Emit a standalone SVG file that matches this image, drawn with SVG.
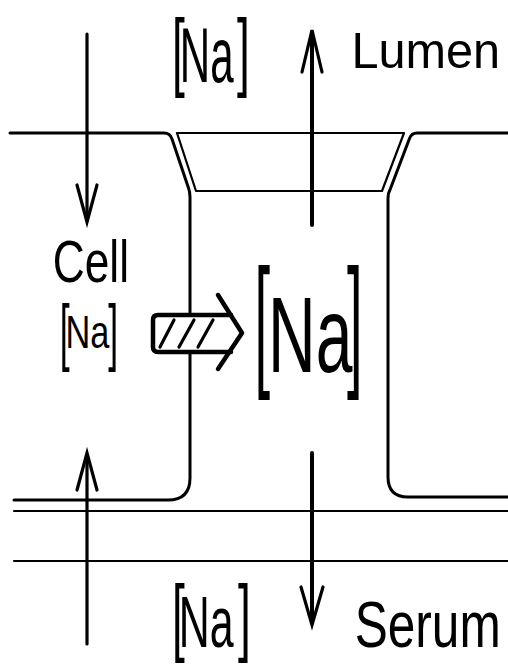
<svg xmlns="http://www.w3.org/2000/svg" width="508" height="665" viewBox="0 0 508 665">
  <style>
    .ln { fill: none; stroke: #000; stroke-linecap: round; stroke-linejoin: round; }
    .mem { stroke-width: 3; }
    .thin { stroke-width: 2.2; }
    .arr { stroke-width: 3.2; }
    .arrm { stroke-width: 4; }
    .head { fill: none; stroke: #000; stroke-width: 3.2; stroke-linecap: round; stroke-linejoin: miter; }
    text { font-family: "Liberation Sans", Arial, sans-serif; fill: #000; }
  </style>
  <rect x="0" y="0" width="508" height="665" fill="#fff"/>

  <g id="membranes">
    <path class="ln mem" d="M10,133 L164,133 Q170,133 172,139 L188.5,188 Q190,192 190,197 L190,478 Q190,500 168,500 L14,500"/>
    <path class="ln mem" d="M508,133 L417,133 Q411.5,133 409.5,138.5 L390.5,188.5 Q388,193 388,198 L388,477 Q388,497 408,497 L508,497"/>
    <polygon id="junction" class="ln thin" points="177,133 404,133 382,191 196,191"/>
    <line class="ln thin" x1="14" y1="511" x2="508" y2="511"/>
    <line class="ln thin" x1="14" y1="561" x2="508" y2="561"/>
  </g>

  <g id="connectors">
    <g id="arrow-lumen-to-cell">
      <line class="ln arr" x1="87" y1="34" x2="87" y2="220"/>
      <polyline class="head" points="77,185 87,222 97,185"/>
    </g>
    <g id="arrow-serum-to-cell">
      <line class="ln arr" x1="87" y1="455" x2="87" y2="644"/>
      <polyline class="head" points="77,490 87,453 97,490"/>
    </g>
    <g id="arrow-to-lumen">
      <line class="ln arrm" x1="312" y1="33" x2="312" y2="225"/>
      <polyline class="head" points="302,72 312,30 322,72"/>
    </g>
    <g id="arrow-to-serum">
      <line class="ln arrm" x1="312" y1="453" x2="312" y2="622"/>
      <polyline class="head" points="301,587 312,625 323,587"/>
    </g>
    <g id="hatched-arrow">
      <rect x="153" y="315" width="78" height="37" fill="#fff"/>
      <path class="ln" stroke-width="4.5" d="M231,315 L158,315 Q153,315 153,320 L153,347 Q153,352 158,352 L231,352"/>
      <polyline class="ln" stroke-width="4.5" points="218,295 242,333 218,369"/>
      <line class="ln" stroke-width="3.2" x1="160" y1="347" x2="174" y2="320"/>
      <line class="ln" stroke-width="3.2" x1="179" y1="347" x2="194" y2="320"/>
      <line class="ln" stroke-width="3.2" x1="198" y1="347" x2="213" y2="320"/>
    </g>
  </g>

  <g id="label-na-lumen">
    <text><tspan x="172.1" y="80" font-size="88" textLength="12.8" lengthAdjust="spacingAndGlyphs">[</tspan><tspan x="179.8" y="82" font-size="77" textLength="53.7" lengthAdjust="spacingAndGlyphs">Na</tspan><tspan x="237.1" y="80" font-size="88" textLength="12.8" lengthAdjust="spacingAndGlyphs">]</tspan></text>
  </g>
  <g id="label-lumen">
    <text x="351.4" y="68" font-size="50" textLength="148.7" lengthAdjust="spacingAndGlyphs">Lumen</text>
  </g>
  <g id="label-cell">
    <text x="52.8" y="282" font-size="58.7" textLength="76.2" lengthAdjust="spacingAndGlyphs">Cell</text>
  </g>
  <g id="label-na-cell">
    <text><tspan x="59.75" y="356.9" font-size="74" textLength="9.9" lengthAdjust="spacingAndGlyphs">[</tspan><tspan x="65.4" y="348" font-size="46" textLength="43.9" lengthAdjust="spacingAndGlyphs">Na</tspan><tspan x="108.3" y="356.9" font-size="74" textLength="9.9" lengthAdjust="spacingAndGlyphs">]</tspan></text>
  </g>
  <g id="label-na-intercellular">
    <text><tspan x="254.5" y="369.8" font-size="144" textLength="15.6" lengthAdjust="spacingAndGlyphs">[</tspan><tspan x="268" y="372" font-size="107.5" textLength="84.4" lengthAdjust="spacingAndGlyphs">Na</tspan><tspan x="346.9" y="369.8" font-size="144" textLength="15.6" lengthAdjust="spacingAndGlyphs">]</tspan></text>
  </g>
  <g id="label-na-serum">
    <text><tspan x="172.1" y="644.9" font-size="85" textLength="12.8" lengthAdjust="spacingAndGlyphs">[</tspan><tspan x="178.7" y="647" font-size="72.6" textLength="54.8" lengthAdjust="spacingAndGlyphs">Na</tspan><tspan x="238.1" y="644.9" font-size="85" textLength="12.8" lengthAdjust="spacingAndGlyphs">]</tspan></text>
  </g>
  <g id="label-serum">
    <text x="354.7" y="647" font-size="65.6" textLength="146" lengthAdjust="spacingAndGlyphs">Serum</text>
  </g>
</svg>
